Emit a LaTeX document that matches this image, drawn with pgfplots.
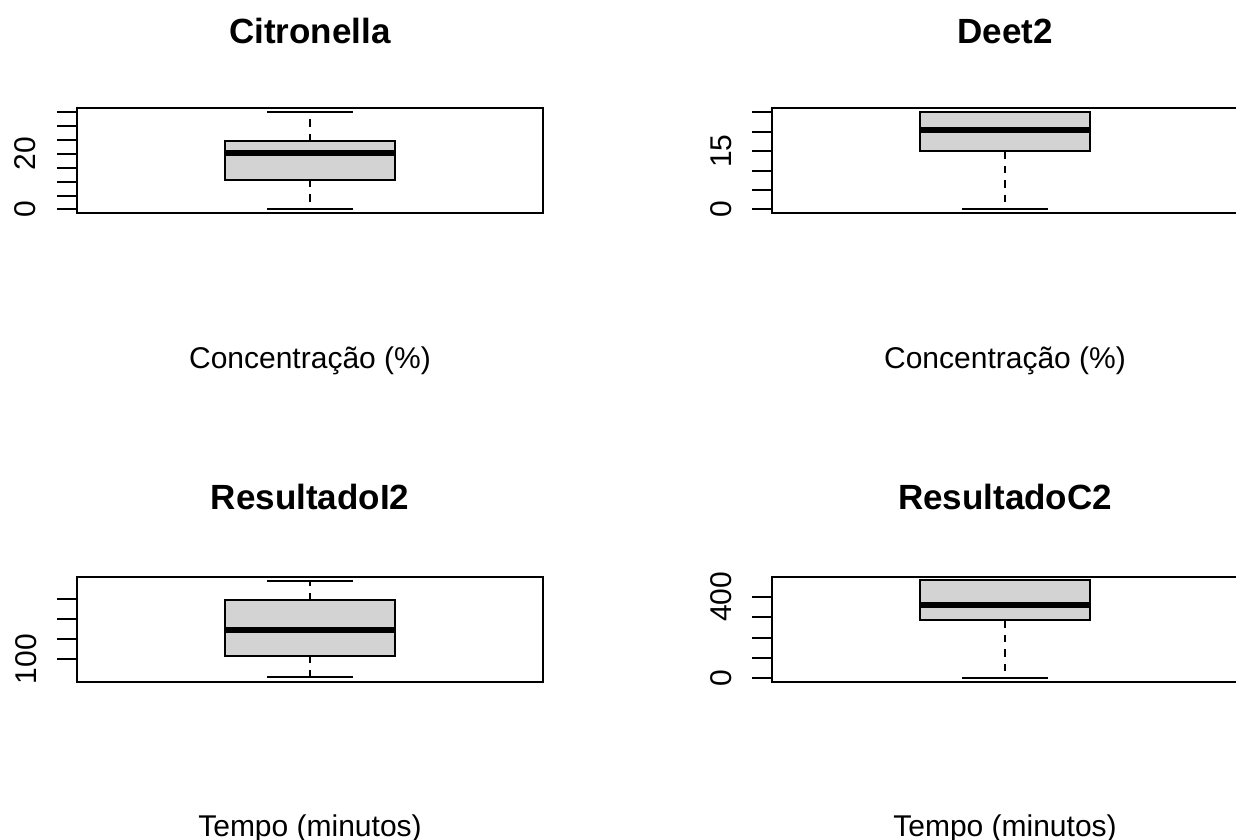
\documentclass[border=0pt]{standalone}
\usepackage{pgfplots}
\pgfplotsset{compat=1.18}
\usepackage{fontspec}
\setmainfont{Liberation Sans}
\definecolor{boxgray}{RGB}{211,211,211}
\pgfplotsset{
  rbox/.style={
    scale only axis, width=233bp, height=52.5bp, anchor=south west,
    xmin=0, xmax=1, xtick=\empty,
    axis line style={line width=1bp, black},
    ytick pos=left, tick align=outside, major tick length=10bp,
    tick style={line width=1bp, black},
    yticklabel style={rotate=90, anchor=base, font=\fontsize{15bp}{18bp}\selectfont, yshift=10.5bp},
    clip=false,
  }
}
% box: min, q1, median, q3, max
\newcommand{\rboxplot}[5]{%
  \addplot[draw=black, fill=boxgray, line width=1bp, mark=none] coordinates {(0.317,#2) (0.683,#2) (0.683,#4) (0.317,#4)} -- cycle;
  \addplot[black, line width=3bp, mark=none] coordinates {(0.317,#3) (0.683,#3)};
  \addplot[black, line width=1bp, dash pattern=on 3.75bp off 3.5bp, mark=none] coordinates {(0.5,#4) (0.5,#5)};
  \addplot[black, line width=1bp, dash pattern=on 3.75bp off 3.5bp, mark=none] coordinates {(0.5,#2) (0.5,#1)};
  \addplot[black, line width=1bp, mark=none] coordinates {(0.408,#5) (0.592,#5)};
  \addplot[black, line width=1bp, mark=none] coordinates {(0.408,#1) (0.592,#1)};
}
\begin{document}
\begin{tikzpicture}
% Citronella
\begin{axis}[rbox, at={(38.5bp,313.35bp)}, ymin=-1.4, ymax=36.4,
  ytick={0,5,10,15,20,25,30,35}, yticklabels={0,,,,20,,,}]
\rboxplot{0}{10.6}{20.4}{24.6}{35}
\end{axis}
% Deet2
\begin{axis}[rbox, at={(386bp,313.35bp)}, ymin=-1, ymax=26,
  ytick={0,5,10,15,20,25}, yticklabels={0,,,15,,}]
\rboxplot{0}{15}{20.3}{25}{25}
\end{axis}
% ResultadoI2
\begin{axis}[rbox, at={(38.5bp,79.15bp)}, ymin=44.3, ymax=304.9,
  ytick={100,150,200,250}, yticklabels={100,,,}]
\rboxplot{56.6}{108.2}{172.1}{245.9}{295.1}
\end{axis}
% ResultadoC2
\begin{axis}[rbox, at={(386bp,79.15bp)}, ymin=-16.5, ymax=499,
  ytick={0,100,200,300,400}, yticklabels={0,,,,400}]
\rboxplot{0}{284.8}{362}{482.3}{482.3}
\end{axis}
\node[anchor=base, font=\fontsize{17.5bp}{21bp}\selectfont\bfseries] at (155bp,398.35bp) {Citronella};
\node[anchor=base, font=\fontsize{17.5bp}{21bp}\selectfont\bfseries] at (502.5bp,398.35bp) {Deet2};
\node[anchor=base, font=\fontsize{15bp}{18bp}\selectfont] at (155bp,235.85bp) {Concentração (\%)};
\node[anchor=base, font=\fontsize{15bp}{18bp}\selectfont] at (502.5bp,235.85bp) {Concentração (\%)};
\node[anchor=base, font=\fontsize{17.5bp}{21bp}\selectfont\bfseries] at (155bp,165bp) {ResultadoI2};
\node[anchor=base, font=\fontsize{17.5bp}{21bp}\selectfont\bfseries] at (502.5bp,165bp) {ResultadoC2};
\node[anchor=base, font=\fontsize{15bp}{18bp}\selectfont] at (155bp,1.65bp) {Tempo (minutos)};
\node[anchor=base, font=\fontsize{15bp}{18bp}\selectfont] at (502.5bp,1.65bp) {Tempo (minutos)};
\pgfresetboundingbox
\path[use as bounding box] (0,0) rectangle (618bp,420bp);
\end{tikzpicture}
\end{document}
